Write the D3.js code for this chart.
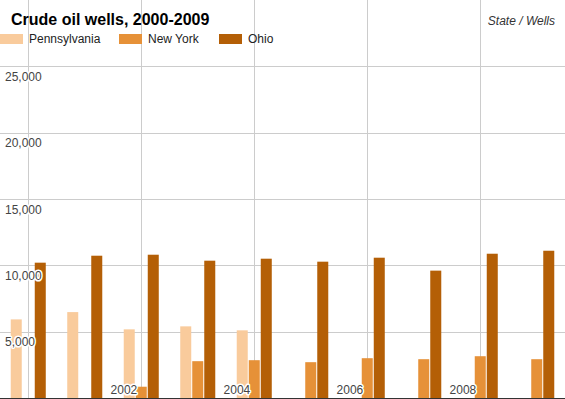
<!DOCTYPE html>
<html>
<head>
<meta charset="utf-8">
<script src="https://cdn.jsdelivr.net/npm/d3@7"></script>
<style>
  body { margin: 0; background: #fff; }
  svg { display: block; font-family: "Liberation Sans", Arial, sans-serif; }
  .halo { paint-order: stroke; stroke: #fff; stroke-width: 3px; stroke-linejoin: round; }
</style>
</head>
<body>
<div class="chart"></div>
<script>
"use strict";
(function(){

var years = ["2000","2001","2002","2003","2004","2005","2006","2007","2008","2009"];
var states = ["Pennsylvania", "New York", "Ohio"];
var pennsylvania = [5925, 6475, 5175, 5400, 5100, null, null, null, null, null];
var newYork = [null, null, 850, 2775, 2850, 2700, 3000, 2925, 3150, 2925];
var ohio = [10200, 10725, 10800, 10350, 10500, 10275, 10575, 9600, 10875, 11100];
var yTicks = [5000, 10000, 15000, 20000, 25000];
var xTickLabels = ["2000", "2002", "2004", "2006", "2008"];
var colors = ["#f9cb9c", "#e69138", "#b45f06"];

var width = 565;
var height = 399;
var baseY = 398;

var series = [pennsylvania, newYork, ohio];

var svg = d3.select('.chart')
            .append('svg')
            .attr('width', width)
            .attr('height', height);

var x0 = d3.scaleBand().domain(years).range([0, width])
           .paddingInner(0.38).paddingOuter(0.19);
var x1 = d3.scaleBand().domain(states).range([0, x0.bandwidth()])
           .paddingInner(1 / 12);
var y = d3.scaleLinear().domain([0, 30000]).range([baseY, 0]);
var color = d3.scaleOrdinal().domain(states).range(colors);

function centre(yr){ return x0(yr) + x0.bandwidth() / 2 }

// grid
var grid = svg.append('g').attr('stroke', '#ccc').attr('stroke-width', 1);
grid.selectAll('.hgrid')
    .data(yTicks)
    .enter().append('line')
    .attr('x1', 0).attr('x2', width)
    .attr('y1', function(d){ return Math.round(y(d)) + 0.5 })
    .attr('y2', function(d){ return Math.round(y(d)) + 0.5 });
grid.selectAll('.vgrid')
    .data(xTickLabels)
    .enter().append('line')
    .attr('x1', function(d){ return Math.round(centre(d)) + 0.5 })
    .attr('x2', function(d){ return Math.round(centre(d)) + 0.5 })
    .attr('y1', 0).attr('y2', baseY);

// bars
var rows = [];
years.forEach(function(yr, i){
  states.forEach(function(s, j){
    if (series[j][i] != null) rows.push({year: yr, state: s, value: series[j][i]});
  });
});

svg.append('g').selectAll('rect')
   .data(rows)
   .enter().append('rect')
   .attr('x', function(d){ return x0(d.year) + x1(d.state) })
   .attr('width', x1.bandwidth())
   .attr('y', function(d){ return y(d.value) })
   .attr('height', function(d){ return baseY - y(d.value) })
   .attr('fill', function(d){ return color(d.state) });

// baseline
svg.append('line')
   .attr('x1', 0).attr('x2', width)
   .attr('y1', baseY + 0.5).attr('y2', baseY + 0.5)
   .attr('stroke', '#333').attr('stroke-width', 1);

// y labels
svg.append('g').selectAll('text')
   .data(yTicks)
   .enter().append('text')
   .attr('class', 'halo')
   .attr('x', 5)
   .attr('y', function(d){ return y(d) + 14.5 })
   .attr('font-size', 12)
   .attr('fill', '#444')
   .text(d3.format(','));

// x labels (first one falls off the left edge, skip it)
svg.append('g').selectAll('text')
   .data(xTickLabels.slice(1))
   .enter().append('text')
   .attr('class', 'halo')
   .attr('x', function(d){ return centre(d) - 4 })
   .attr('y', 393.5)
   .attr('text-anchor', 'end')
   .attr('font-size', 12)
   .attr('fill', '#444')
   .text(function(d){ return d });

// title
svg.append('text')
   .attr('x', 11).attr('y', 24.5)
   .attr('font-size', 16).attr('font-weight', 'bold')
   .attr('fill', '#000')
   .text('Crude oil wells, 2000-2009');

svg.append('text')
   .attr('x', 555).attr('y', 25)
   .attr('text-anchor', 'end')
   .attr('font-size', 12).attr('font-style', 'italic')
   .attr('fill', '#333')
   .text('State / Wells');

// legend
var legendX = [0, 119, 219];
var legend = svg.append('g').selectAll('g')
   .data(states)
   .enter().append('g')
   .attr('transform', function(d, i){ return 'translate(' + legendX[i] + ',34)' });
legend.append('rect')
   .attr('width', 23).attr('height', 10)
   .attr('fill', function(d){ return color(d) });
legend.append('text')
   .attr('x', 29).attr('y', 9.3)
   .attr('font-size', 12)
   .attr('fill', '#222')
   .text(function(d){ return d });

})();
</script>
</body>
</html>
